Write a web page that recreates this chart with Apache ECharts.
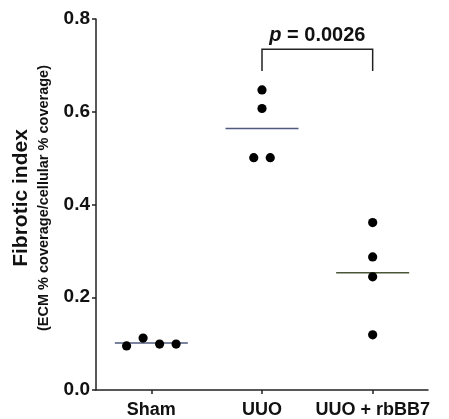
<!DOCTYPE html>
<html><head><meta charset="utf-8">
<script src="https://cdn.jsdelivr.net/npm/echarts@6/dist/echarts.min.js"></script>
<style>html,body{margin:0;padding:0;background:#fff}#c{width:449px;height:419px}</style>
</head><body><div id="c"></div>
<script>
const categories = ['Sham', 'UUO', 'UUO + rbBB7'];
const shamValues = [0.095, 0.112, 0.099, 0.099];
const uuoValues = [0.647, 0.607, 0.501, 0.501];
const rbbb7Values = [0.361, 0.287, 0.244, 0.119];
const yTicks = [0.0, 0.2, 0.4, 0.6, 0.8];
const pValueText = 'p = 0.0026';

const groups = [shamValues, uuoValues, rbbb7Values];
const FONT = 'Liberation Sans, Arial, Helvetica, sans-serif';

// jitter: spread points of a group whose values are close (like GraphPad scatter-dot)
function jitter(values) {
  const clusters = [];
  values.forEach((v, i) => {
    let c = clusters.find(cl => cl.some(j => Math.abs(values[j] - v) < 0.03));
    if (c) c.push(i); else clusters.push([i]);
  });
  const off = new Array(values.length).fill(0);
  clusters.forEach(cl => {
    const n = cl.length;
    cl.forEach((i, k) => { off[i] = (k - (n - 1) / 2); });
  });
  return off;
}

const pointData = [];
groups.forEach((vals, g) => {
  const off = jitter(vals);
  vals.forEach((v, i) => pointData.push([g, v, off[i]]));
});
const meanData = groups.map((vals, g) => [g, vals.reduce((a, b) => a + b, 0) / vals.length]);
const meanColors = ['#4f5a7e', '#4f5a7e', '#4a5638'];

const chart = echarts.init(document.getElementById('c'), null, {renderer: 'canvas'});
chart.setOption({
  animation: false,
  grid: {left: 96, right: 21, top: 19, bottom: 29},
  xAxis: {
    type: 'category', data: categories, boundaryGap: true,
    axisLine: {lineStyle: {color: '#222', width: 1.5}},
    axisTick: {show: true, alignWithLabel: true, length: 4, lineStyle: {color: '#222', width: 1.5}},
    axisLabel: {interval: 0, color: '#111', fontFamily: FONT, fontWeight: 'bold', fontSize: 18, margin: 11}
  },
  yAxis: {
    type: 'value', min: 0, max: 0.8, interval: 0.2,
    splitLine: {show: false},
    axisLine: {show: true, lineStyle: {color: '#222', width: 1.5}},
    axisTick: {show: true, length: 4, lineStyle: {color: '#222', width: 1.5}},
    axisLabel: {color: '#111', fontFamily: FONT, fontWeight: 'bold', fontSize: 19, margin: 6,
      formatter: v => yTicks.find(t => Math.abs(t - v) < 1e-9).toFixed(1)}
  },
  series: [
    {
      type: 'custom', data: meanData, z: 2,
      renderItem: (params, api) => {
        const p = api.coord([api.value(0), api.value(1)]);
        return {type: 'line', shape: {x1: p[0] - 36.5, y1: p[1], x2: p[0] + 36.5, y2: p[1]},
          style: {stroke: meanColors[params.dataIndex], lineWidth: 1.5}};
      }
    },
    {
      type: 'custom', data: pointData, z: 3,
      renderItem: (params, api) => {
        const p = api.coord([api.value(0), api.value(1)]);
        return {type: 'circle', shape: {cx: p[0] + api.value(2) * 16.5, cy: p[1], r: 4.6},
          style: {fill: '#000'}};
      }
    },
    {
      // significance bracket between UUO and UUO + rbBB7
      type: 'custom', data: [[1, 2, 0.735, 0.688]], z: 4,
      renderItem: (params, api) => {
        const a = api.coord([api.value(0), api.value(2)]);
        const b = api.coord([api.value(1), api.value(2)]);
        const yb = api.coord([api.value(0), api.value(3)])[1];
        return {type: 'group', children: [
          {type: 'polyline', shape: {points: [[a[0], yb], [a[0], a[1]], [b[0], a[1]], [b[0], yb]]},
            style: {stroke: '#222', lineWidth: 1.5, fill: null}},
          {type: 'text', style: {
            x: (a[0] + b[0]) / 2, y: a[1] - 4, align: 'center', verticalAlign: 'bottom',
            rich: {i: {fontStyle: 'italic', fontWeight: 'bold', fontSize: 20, fontFamily: FONT, fill: '#111'},
                   n: {fontWeight: 'bold', fontSize: 20, fontFamily: FONT, fill: '#111'}},
            text: '{i|' + pValueText.slice(0, 1) + '}{n|' + pValueText.slice(1) + '}'
          }}
        ]};
      }
    }
  ],
  graphic: [
    {type: 'text', rotation: Math.PI / 2, x: 21, y: 198,
      style: {text: 'Fibrotic index', fontFamily: FONT, fontWeight: 'bold', fontSize: 21, fill: '#111', align: 'center', verticalAlign: 'middle'}},
    {type: 'text', rotation: Math.PI / 2, x: 44, y: 198,
      style: {text: '(ECM % coverage/cellular % coverage)', fontFamily: FONT, fontWeight: 'bold', fontSize: 14.5, fill: '#111', align: 'center', verticalAlign: 'middle'}}
  ]
});
</script></body></html>
